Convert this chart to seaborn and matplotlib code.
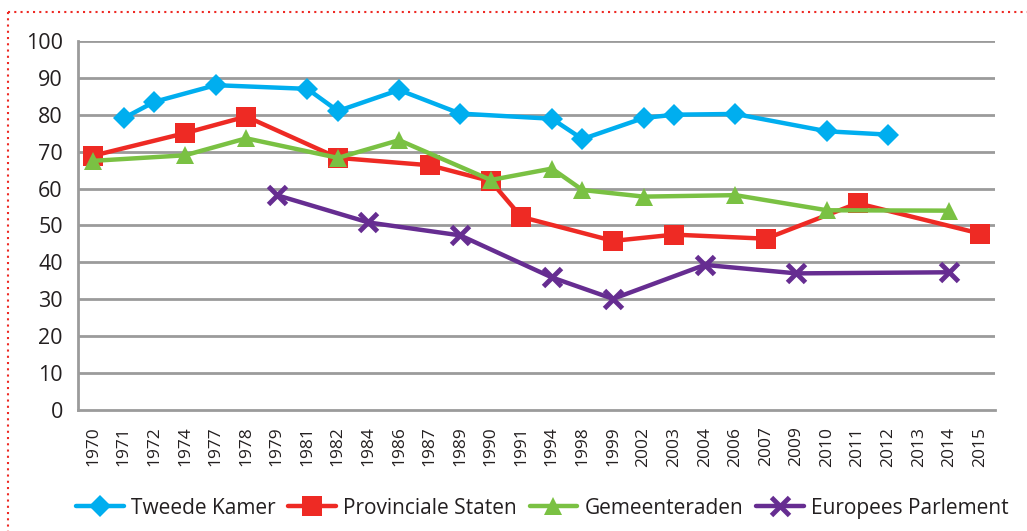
import numpy as np
import pandas as pd
import matplotlib
matplotlib.use("Agg")
import matplotlib.pyplot as plt
from matplotlib.lines import Line2D
import seaborn as sns

years = ['1970', '1971', '1972', '1974', '1977', '1978', '1979', '1981', '1982', '1984',
         '1986', '1987', '1989', '1990', '1991', '1994', '1998', '1999', '2002', '2003',
         '2004', '2006', '2007', '2009', '2010', '2011', '2012', '2013', '2014', '2015']

tk_years = ['1971', '1972', '1977', '1981', '1982', '1986', '1989', '1994', '1998', '2002', '2003', '2006', '2010', '2012']
tk_vals = [79.1, 83.5, 88.0, 87.0, 81.0, 86.7, 80.3, 78.9, 73.4, 79.1, 80.0, 80.2, 75.5, 74.6]

ps_years = ['1970', '1974', '1978', '1982', '1987', '1990', '1991', '1999', '2003', '2007', '2011', '2015']
ps_vals = [68.9, 75.0, 79.5, 68.3, 66.3, 62.0, 52.3, 45.8, 47.5, 46.4, 56.0, 47.8]

gr_years = ['1970', '1974', '1978', '1982', '1986', '1990', '1994', '1998', '2002', '2006', '2010', '2014']
gr_vals = [67.5, 69.0, 73.6, 68.3, 73.1, 62.3, 65.4, 59.6, 57.8, 58.2, 54.1, 54.0]

ep_years = ['1979', '1984', '1989', '1994', '1999', '2004', '2009', '2014']
ep_vals = [58.2, 50.8, 47.3, 35.9, 30.1, 39.3, 37.0, 37.3]

series = ['Tweede Kamer', 'Provinciale Staten', 'Gemeenteraden', 'Europees Parlement']
colors = ['#00AEEF', '#EE2A24', '#7AC143', '#662D91']
markers = ['D', 's', '^', 'x']
msizes = [11, 14, 13, 13]
mews = [0, 0, 0, 3.5]

frames = []
for name, yrs, vals in zip(series, [tk_years, ps_years, gr_years, ep_years],
                           [tk_vals, ps_vals, gr_vals, ep_vals]):
    frames.append(pd.DataFrame({'serie': name, 'jaar': yrs, 'pct': vals}))
df = pd.concat(frames, ignore_index=True)
df['pos'] = df['jaar'].apply(lambda j: years.index(j))

sns.set_style('white')
plt.rcParams['font.family'] = ['Open Sans', 'DejaVu Sans']

fig = plt.figure(figsize=(10.27, 5.31), dpi=100)
ax = fig.add_axes([0.076, 0.228, 0.893, 0.695])

grid_c = '#9B9B9B'
txt_c = '#231F20'
for v in range(10, 101, 10):
    ax.axhline(v, color=grid_c, lw=2, zorder=0)

for name, c, m, ms, mew in zip(series, colors, markers, msizes, mews):
    d = df[df['serie'] == name].sort_values('pos')
    ax.plot(d['pos'], d['pct'], color=c, lw=3.2, marker=m, markersize=ms,
            markeredgecolor=c, markeredgewidth=mew, zorder=3, label=name)

ax.set_xlim(-0.5, len(years) - 0.5)
ax.set_ylim(0, 100)
ax.set_yticks(range(0, 101, 10))
ax.set_yticklabels([str(v) for v in range(0, 101, 10)], fontsize=15.5, color=txt_c)
ax.set_xticks(range(len(years)))
ax.set_xticklabels(years, rotation=90, fontsize=12.5, color=txt_c)
ax.set_xticks(np.arange(-0.5, len(years), 1), minor=True)
ax.tick_params(axis='x', which='major', length=0, pad=12)
ax.tick_params(axis='x', which='minor', length=5, width=2, color=grid_c, direction='out')
ax.tick_params(axis='y', length=7, width=2, color=grid_c, direction='out', pad=4)

for s in ['top', 'right']:
    ax.spines[s].set_visible(False)
for s in ['left', 'bottom']:
    ax.spines[s].set_color(grid_c)
    ax.spines[s].set_linewidth(2)

handles = [Line2D([0], [0], color=c, lw=3.2, marker=m, markersize=ms, markeredgewidth=mew)
           for c, m, ms, mew in zip(colors, markers, msizes, mews)]
fig.legend(handles, series, loc='center', bbox_to_anchor=(0.528, 0.043), ncol=4,
           frameon=False, fontsize=15, handlelength=2.3, handletextpad=0.35,
           columnspacing=0.6, labelcolor=txt_c)

# rode stippellijn rond de figuur
fig.add_artist(Line2D([8 / 1027, 1.0], [1 - 12 / 531, 1 - 12 / 531], transform=fig.transFigure,
                      color='#EE2A24', lw=1.5, linestyle=(0, (1, 2))))
fig.add_artist(Line2D([8 / 1027, 8 / 1027], [1 - 12 / 531, 0.0], transform=fig.transFigure,
                      color='#EE2A24', lw=1.5, linestyle=(0, (1, 2))))

fig.savefig('out.png', dpi=100)
